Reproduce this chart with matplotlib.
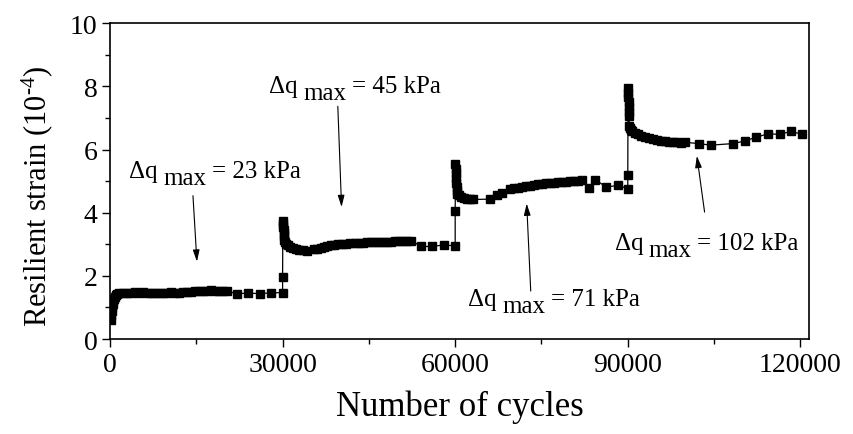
import matplotlib
matplotlib.use("Agg")
import matplotlib.pyplot as plt
from matplotlib.ticker import MultipleLocator

plt.rcParams['font.family'] = ['Liberation Serif', 'DejaVu Serif']
plt.rcParams['mathtext.fontset'] = 'custom'
plt.rcParams['mathtext.rm'] = 'Liberation Serif'
plt.rcParams['mathtext.it'] = 'Liberation Serif:italic'

# ---- data ----
cycles_1 = [100, 200, 300, 400, 500, 600, 700, 850, 1000, 1200,
            1500, 2200, 2900, 3600, 4300, 5000, 5700, 6400, 7100, 7800,
            8500, 9200, 9900, 10600, 11300, 12000, 12700, 13400, 14100, 14800,
            15500, 16200, 16900, 17600, 18300, 19000, 19700, 20400,
            22000, 24000, 26000, 28000, 30000]
strain_1 = [0.60, 0.75, 0.90, 1.00, 1.10, 1.20, 1.28, 1.34, 1.38, 1.42,
            1.46, 1.47, 1.47, 1.46, 1.48, 1.47, 1.49, 1.46, 1.47, 1.45,
            1.46, 1.47, 1.47, 1.48, 1.46, 1.47, 1.49, 1.48, 1.50, 1.51,
            1.52, 1.52, 1.53, 1.54, 1.53, 1.52, 1.52, 1.51,
            1.44, 1.45, 1.44, 1.46, 1.47]

cycles_2 = [30000, 30050, 30080, 30120, 30160, 30200, 30250, 30300, 30400, 30600,
            30900, 31300, 31800, 32300, 32900, 33500, 34200, 35400, 36000, 36600,
            37200, 37800, 38400, 39000, 39700, 40400, 41100, 41800, 42500, 43200,
            43900, 44600, 45300, 46000, 46700, 47400, 48100, 48800, 49500, 50200,
            50900, 51600, 52300, 54100, 56000, 58000, 60000]
strain_2 = [1.96, 3.75, 3.65, 3.55, 3.45, 3.35, 3.25, 3.15, 3.08, 3.02,
            2.97, 2.92, 2.88, 2.85, 2.83, 2.81, 2.80, 2.84, 2.86, 2.89,
            2.92, 2.95, 2.97, 2.98, 3.00, 3.01, 3.02, 3.03, 3.04, 3.04,
            3.05, 3.06, 3.06, 3.07, 3.06, 3.07, 3.08, 3.08, 3.09, 3.09,
            3.10, 3.11, 3.12, 2.93, 2.93, 2.98, 2.95]

cycles_3 = [60000, 60050, 60080, 60100, 60150, 60200, 60250, 60300, 60400, 60600,
            61000, 61500, 62000, 62600, 63100, 66000, 67300, 68200, 69500, 70200,
            70900, 71600, 72300, 73000, 73700, 74400, 75100, 75800, 76500, 77200,
            77900, 78600, 79300, 80000, 80700, 81400, 82000, 83300, 84300, 86300,
            88300, 90000]
strain_3 = [4.07, 5.55, 5.40, 5.25, 5.10, 4.95, 4.80, 4.70, 4.60, 4.55,
            4.50, 4.47, 4.45, 4.43, 4.42, 4.43, 4.57, 4.62, 4.74, 4.77,
            4.79, 4.81, 4.84, 4.86, 4.88, 4.90, 4.91, 4.93, 4.94, 4.95,
            4.96, 4.97, 4.98, 4.99, 5.00, 5.02, 5.03, 4.78, 5.05, 4.81,
            4.87, 4.76]

cycles_4 = [90000, 90050, 90080, 90110, 90140, 90170, 90200, 90230, 90260, 90300,
            90500, 90800, 91200, 91700, 92300, 93000, 93700, 94400, 95100, 95800,
            96500, 97200, 97900, 98600, 99300, 100000, 102300, 104400, 108300, 110300,
            112300, 114400, 116400, 118400, 120300]
strain_4 = [5.20, 7.95, 7.80, 7.65, 7.50, 7.35, 7.20, 7.05, 6.75, 6.68,
            6.62, 6.58, 6.54, 6.49, 6.44, 6.40, 6.36, 6.33, 6.30, 6.28,
            6.27, 6.25, 6.24, 6.23, 6.22, 6.23, 6.19, 6.14, 6.19, 6.27,
            6.39, 6.50, 6.48, 6.58, 6.48]

load_labels = ["23", "45", "71", "102"]
text_pos = [(3300, 5.14), (27600, 7.83), (62300, 1.08), (87700, 2.86)]
arrow_tail = [(14420, 4.54), (39600, 7.37), (73130, 1.52), (103350, 4.02)]
arrow_tip = [(15110, 2.45), (40250, 4.18), (72430, 4.29), (102010, 5.80)]

x_ticks = [0, 30000, 60000, 90000, 120000]
y_ticks = [0, 2, 4, 6, 8, 10]

# ---- figure ----
fig = plt.figure(figsize=(8.54, 4.35), dpi=100)
ax = fig.add_axes([110 / 854, 1 - 340 / 435, (809 - 110) / 854, (340 - 24.3) / 435])

cycles = cycles_1 + cycles_2 + cycles_3 + cycles_4
strain = strain_1 + strain_2 + strain_3 + strain_4
ax.plot(cycles, strain, '-', color='black', lw=0.9, marker='s', ms=6,
        mfc='black', mec='black', zorder=3)

ax.set_xlim(0, 121500)
ax.set_ylim(0, 10)
ax.set_xticks(x_ticks)
ax.set_xticklabels([str(v) for v in x_ticks])
ax.set_yticks(y_ticks)
ax.xaxis.set_minor_locator(MultipleLocator(15000))
ax.yaxis.set_minor_locator(MultipleLocator(1))
ax.tick_params(which='major', direction='out', length=6, width=1, labelsize=20, pad=3)
ax.tick_params(which='minor', direction='out', length=3.5, width=1)
for sp in ax.spines.values():
    sp.set_linewidth(1.2)

ax.set_xlabel("Number of cycles", fontsize=25, labelpad=9)
ax.set_ylabel(r"Resilient strain (10$^{\text{-4}}$)", fontsize=22)
ax.yaxis.set_label_coords(-0.078, 0.455)

fs = 18
for lab, (tx, ty), tail, tip in zip(load_labels, text_pos, arrow_tail, arrow_tip):
    t1 = ax.text(tx, ty, "\u0394q", fontsize=fs, ha='left', va='baseline')
    t2 = ax.annotate("max", xy=(1, 0), xycoords=t1, xytext=(4, -5),
                     textcoords='offset points', fontsize=fs, ha='left', va='bottom')
    ax.annotate("= " + lab + " kPa", xy=(1, 0), xycoords=t2, xytext=(4, 5),
                textcoords='offset points', fontsize=fs, ha='left', va='bottom')
    ax.annotate("", xy=tip, xytext=tail,
                arrowprops=dict(arrowstyle='-|>,head_length=0.7,head_width=0.2',
                                color='black', lw=0.8, mutation_scale=10,
                                shrinkA=0, shrinkB=0))

fig.savefig("out.png", dpi=100)
